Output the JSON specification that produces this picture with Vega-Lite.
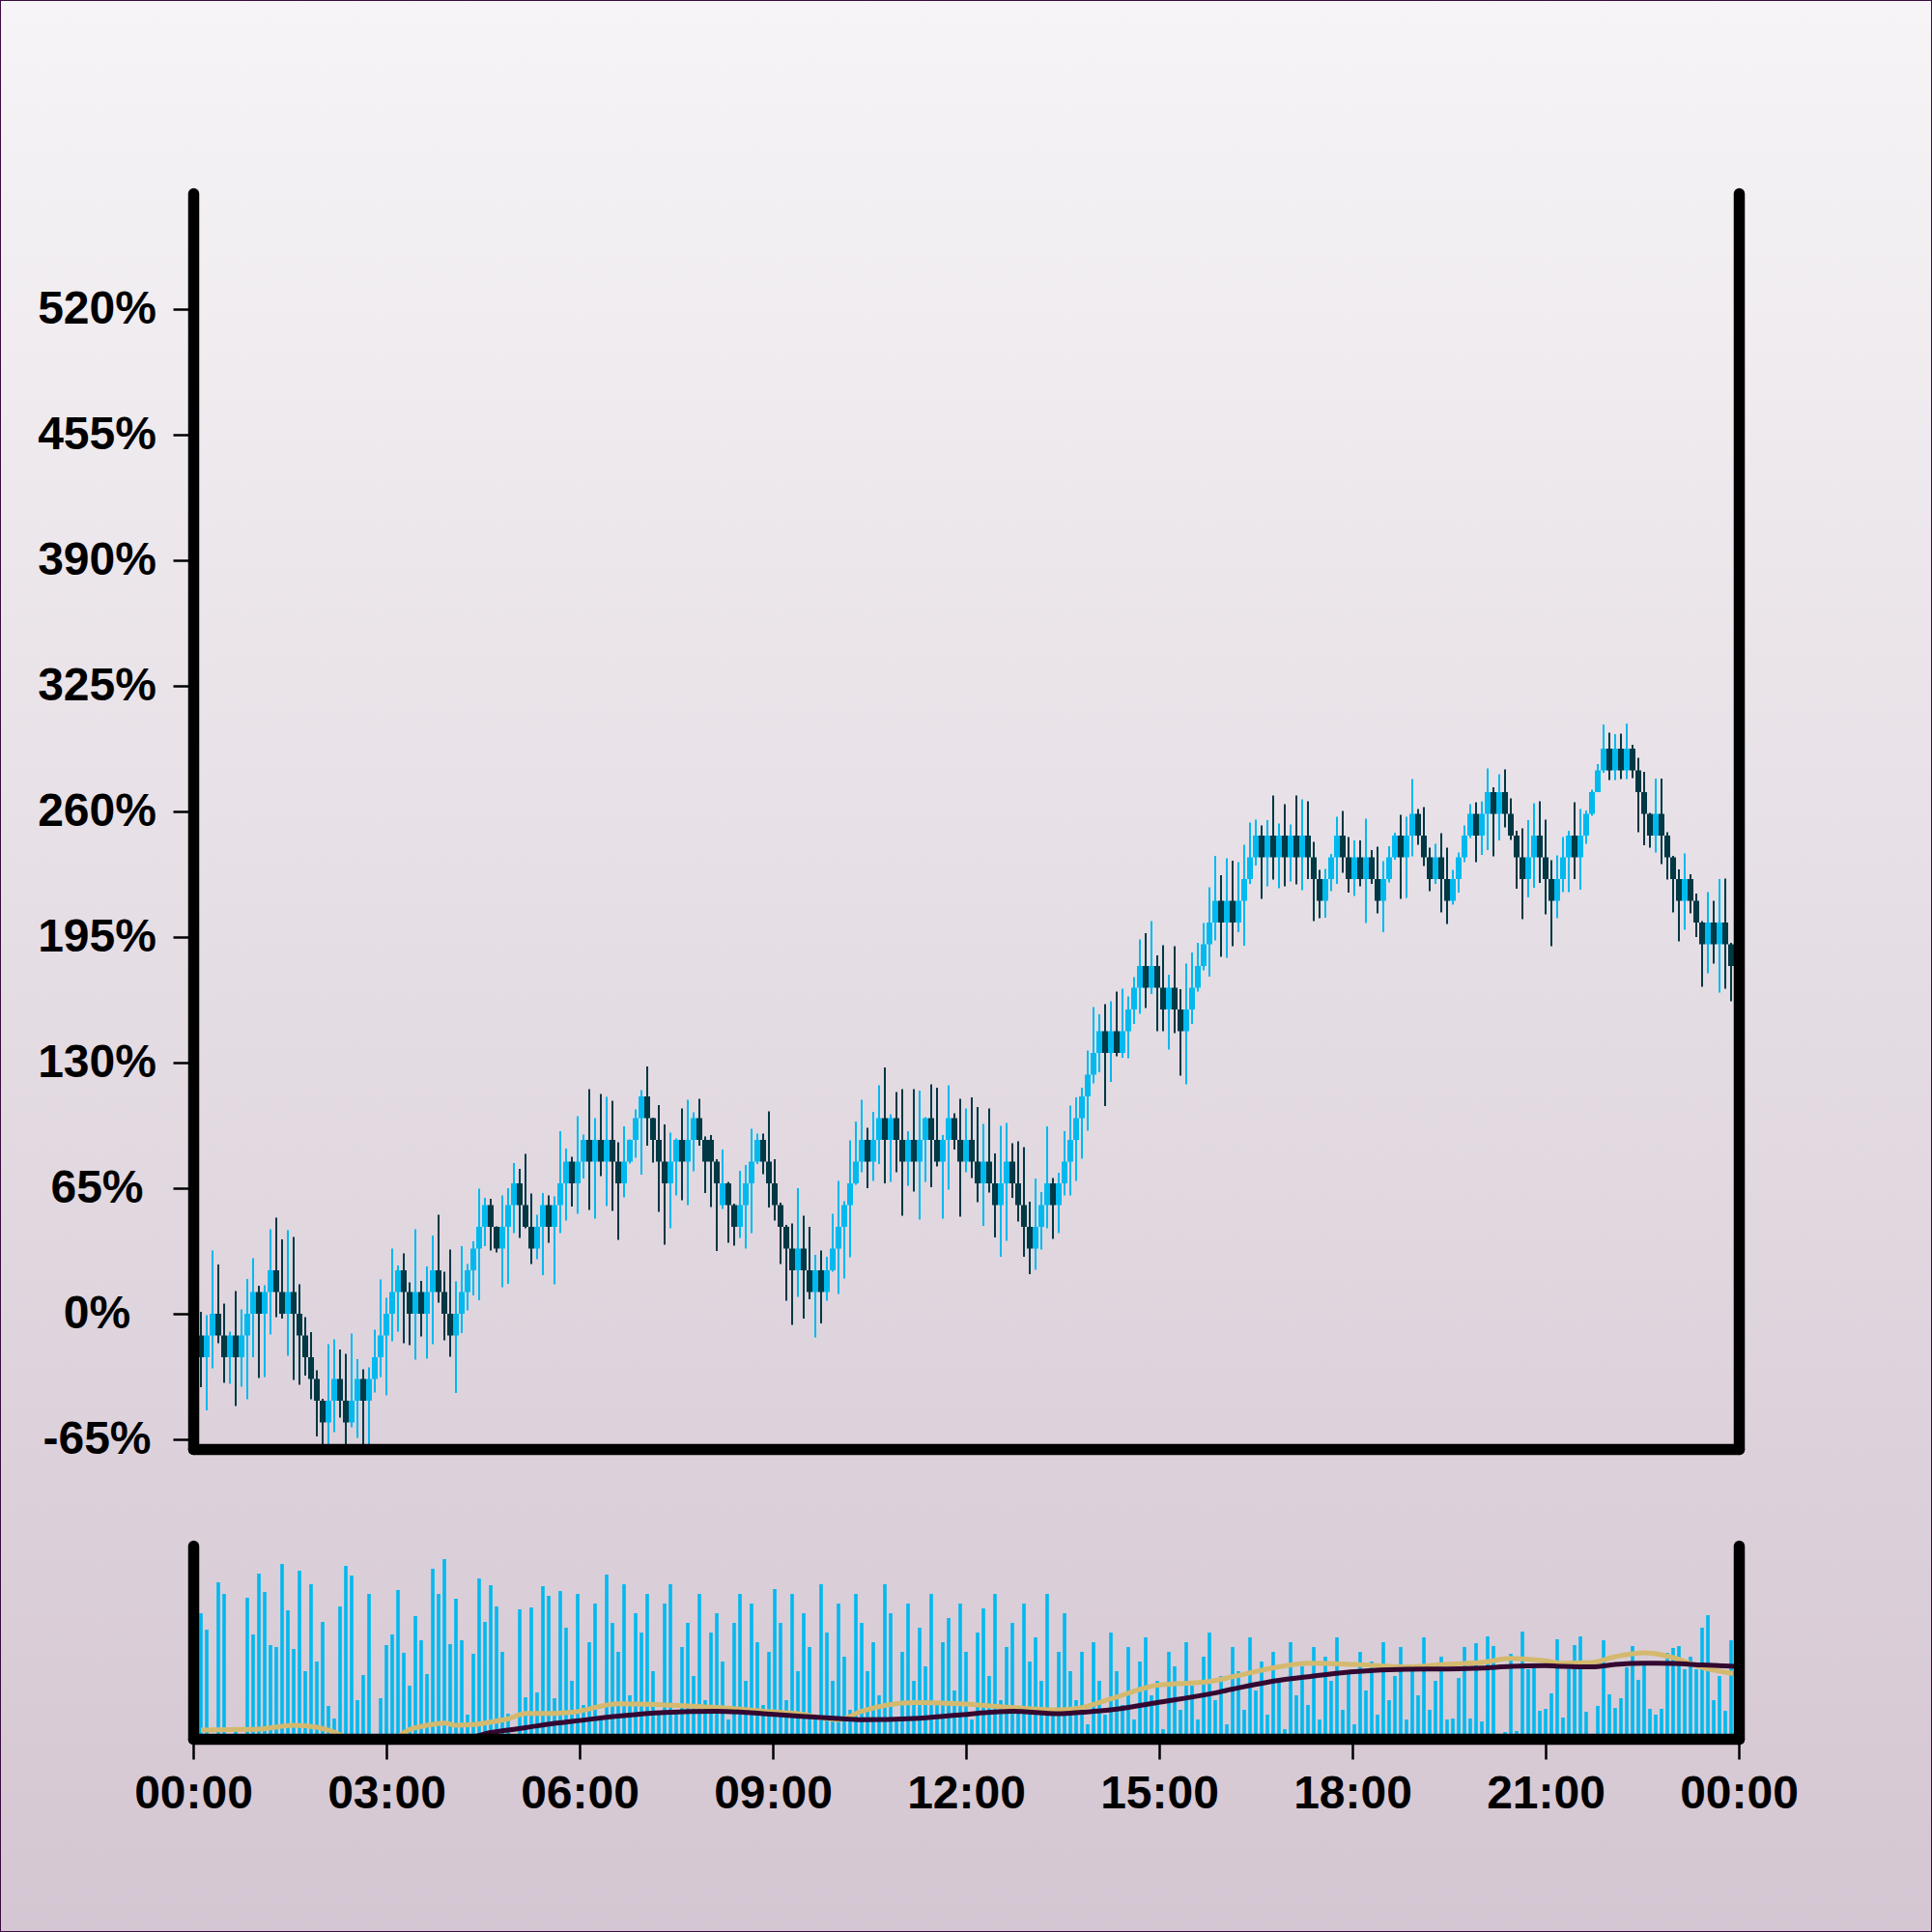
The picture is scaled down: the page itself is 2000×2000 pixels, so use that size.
{
"$schema":"https://vega.github.io/schema/vega-lite/v6.json",
"width":2000,"height":2000,"autosize":{"type":"none"},"padding":0,
"background":"#e6dfe5",
"config":{"view":{"stroke":null},
"axis":{"grid":false,"domainColor":"#000000","domainWidth":11.5,"domainCap":"round","tickColor":"#000000","tickWidth":2.5,"tickSize":21,"labelFont":"Liberation Sans","labelFontWeight":"bold","labelFontSize":48,"labelColor":"#000000","labelOverlap":false,"labelBound":false,"labelFlush":false}},
"datasets":{
"candles":[
{"i":0,"o":-11.25,"h":1,"l":-38,"c":-22.5,"v":130},
{"i":1,"o":-22.5,"h":-0.8,"l":-50,"c":-11.25,"v":113},
{"i":2,"o":-11.25,"h":32.8,"l":-28.3,"c":0,"v":2},
{"i":3,"o":0,"h":25.5,"l":-15.3,"c":-11.25,"v":162},
{"i":4,"o":-11.25,"h":5.3,"l":-35.8,"c":-22.5,"v":150},
{"i":5,"o":-22.5,"h":-9.2,"l":-36.3,"c":-11.25,"v":0},
{"i":6,"o":-11.25,"h":11.8,"l":-47.8,"c":-22.5,"v":12},
{"i":7,"o":-22.5,"h":2.2,"l":-37.8,"c":-11.25,"v":0},
{"i":8,"o":-11.25,"h":18,"l":-44.3,"c":0,"v":146},
{"i":9,"o":0,"h":28.8,"l":-22.5,"c":11.25,"v":108},
{"i":10,"o":11.25,"h":14.5,"l":-33.3,"c":0,"v":171},
{"i":11,"o":0,"h":14.8,"l":-32.8,"c":11.25,"v":152},
{"i":12,"o":11.25,"h":43.8,"l":-10.7,"c":22.5,"v":97},
{"i":13,"o":22.5,"h":49.7,"l":-1.7,"c":11.25,"v":95},
{"i":14,"o":11.25,"h":38.5,"l":-2.5,"c":0,"v":181},
{"i":15,"o":0,"h":43.2,"l":-21.8,"c":11.25,"v":133},
{"i":16,"o":11.25,"h":39.7,"l":-34.3,"c":0,"v":93},
{"i":17,"o":0,"h":15.3,"l":-36.8,"c":-11.25,"v":174},
{"i":18,"o":-11.25,"h":-1.7,"l":-32,"c":-22.5,"v":70},
{"i":19,"o":-22.5,"h":-9.5,"l":-44.3,"c":-33.75,"v":160},
{"i":20,"o":-33.75,"h":-29.2,"l":-63.5,"c":-45,"v":80},
{"i":21,"o":-45,"h":-44,"l":-70,"c":-56.25,"v":121},
{"i":22,"o":-56.25,"h":-15.8,"l":-68,"c":-45,"v":34},
{"i":23,"o":-45,"h":-13.3,"l":-61.2,"c":-33.75,"v":21},
{"i":24,"o":-33.75,"h":-18.5,"l":-53.7,"c":-45,"v":137},
{"i":25,"o":-45,"h":-20.7,"l":-68,"c":-56.25,"v":179},
{"i":26,"o":-56.25,"h":-10.3,"l":-58.7,"c":-45,"v":169},
{"i":27,"o":-45,"h":-23.5,"l":-64.2,"c":-33.75,"v":40},
{"i":28,"o":-33.75,"h":-28.8,"l":-68,"c":-45,"v":66},
{"i":29,"o":-45,"h":-27.8,"l":-68,"c":-33.75,"v":150},
{"i":30,"o":-33.75,"h":-8.2,"l":-40.8,"c":-22.5,"v":0},
{"i":31,"o":-22.5,"h":17.8,"l":-32.8,"c":-11.25,"v":42},
{"i":32,"o":-11.25,"h":8.2,"l":-42.2,"c":0,"v":97},
{"i":33,"o":0,"h":33.7,"l":-14.3,"c":11.25,"v":108},
{"i":34,"o":11.25,"h":25,"l":-9.2,"c":22.5,"v":154},
{"i":35,"o":22.5,"h":31.3,"l":-15.3,"c":11.25,"v":89},
{"i":36,"o":11.25,"h":16.2,"l":-16.2,"c":0,"v":55},
{"i":37,"o":0,"h":43.7,"l":-23.8,"c":11.25,"v":127},
{"i":38,"o":11.25,"h":17,"l":-11.8,"c":0,"v":102},
{"i":39,"o":0,"h":24.5,"l":-23.3,"c":11.25,"v":67},
{"i":40,"o":11.25,"h":40.5,"l":-15.8,"c":22.5,"v":176},
{"i":41,"o":22.5,"h":51.3,"l":5.8,"c":11.25,"v":150},
{"i":42,"o":11.25,"h":21.8,"l":-13.7,"c":0,"v":186},
{"i":43,"o":0,"h":33.3,"l":-22.2,"c":-11.25,"v":98},
{"i":44,"o":-11.25,"h":16.7,"l":-41,"c":0,"v":145},
{"i":45,"o":0,"h":35,"l":-10,"c":11.25,"v":102},
{"i":46,"o":11.25,"h":25.8,"l":1.7,"c":22.5,"v":25},
{"i":47,"o":22.5,"h":37.5,"l":9.5,"c":33.75,"v":88},
{"i":48,"o":33.75,"h":64.7,"l":7,"c":45,"v":166},
{"i":49,"o":45,"h":60,"l":35,"c":56.25,"v":121},
{"i":50,"o":56.25,"h":59.5,"l":32.8,"c":45,"v":159},
{"i":51,"o":45,"h":45.3,"l":31.7,"c":33.75,"v":137},
{"i":52,"o":33.75,"h":61.2,"l":13.7,"c":45,"v":90},
{"i":53,"o":45,"h":65,"l":15.5,"c":56.25,"v":26},
{"i":54,"o":56.25,"h":78,"l":41.7,"c":67.5,"v":0},
{"i":55,"o":67.5,"h":75,"l":39.2,"c":56.25,"v":134},
{"i":56,"o":56.25,"h":82.7,"l":44.2,"c":45,"v":43},
{"i":57,"o":45,"h":62.2,"l":25.8,"c":33.75,"v":136},
{"i":58,"o":33.75,"h":51.2,"l":28.3,"c":45,"v":48},
{"i":59,"o":45,"h":62.5,"l":20,"c":56.25,"v":158},
{"i":60,"o":56.25,"h":61.2,"l":36.7,"c":45,"v":148},
{"i":61,"o":45,"h":60.8,"l":15.3,"c":56.25,"v":42},
{"i":62,"o":56.25,"h":94.5,"l":41.7,"c":67.5,"v":153},
{"i":63,"o":67.5,"h":85.5,"l":48.3,"c":78.75,"v":115},
{"i":64,"o":78.75,"h":81.3,"l":55.5,"c":67.5,"v":60},
{"i":65,"o":67.5,"h":102.2,"l":51.7,"c":78.75,"v":150},
{"i":66,"o":78.75,"h":92.8,"l":70,"c":90,"v":35},
{"i":67,"o":90,"h":116.3,"l":53.7,"c":78.75,"v":100},
{"i":68,"o":78.75,"h":101.2,"l":49.2,"c":90,"v":140},
{"i":69,"o":90,"h":113.7,"l":71.3,"c":78.75,"v":20},
{"i":70,"o":78.75,"h":112.2,"l":55.8,"c":90,"v":170},
{"i":71,"o":90,"h":110.3,"l":53.3,"c":78.75,"v":120},
{"i":72,"o":78.75,"h":88.7,"l":38.3,"c":67.5,"v":90},
{"i":73,"o":67.5,"h":97,"l":60.3,"c":78.75,"v":160},
{"i":74,"o":78.75,"h":90.3,"l":77.8,"c":90,"v":45},
{"i":75,"o":90,"h":105.8,"l":80.8,"c":101.25,"v":130},
{"i":76,"o":101.25,"h":115.8,"l":72,"c":112.5,"v":110},
{"i":77,"o":112.5,"h":128,"l":87,"c":101.25,"v":150},
{"i":78,"o":101.25,"h":101.5,"l":78.3,"c":90,"v":70},
{"i":79,"o":90,"h":108,"l":52.8,"c":78.75,"v":25},
{"i":80,"o":78.75,"h":98,"l":35.8,"c":67.5,"v":140},
{"i":81,"o":67.5,"h":93.7,"l":44.2,"c":78.75,"v":160},
{"i":82,"o":78.75,"h":90.8,"l":61.2,"c":90,"v":30},
{"i":83,"o":90,"h":106.3,"l":58.7,"c":78.75,"v":95},
{"i":84,"o":78.75,"h":110.8,"l":56.2,"c":90,"v":120},
{"i":85,"o":90,"h":104.2,"l":73.8,"c":101.25,"v":65},
{"i":86,"o":101.25,"h":111.3,"l":87,"c":90,"v":150},
{"i":87,"o":90,"h":91.7,"l":62.5,"c":78.75,"v":40},
{"i":88,"o":90,"h":92.5,"l":55.3,"c":78.75,"v":110},
{"i":89,"o":78.75,"h":80,"l":32.5,"c":67.5,"v":130},
{"i":90,"o":56.25,"h":85,"l":54.2,"c":67.5,"v":80},
{"i":91,"o":67.5,"h":68.3,"l":36.7,"c":56.25,"v":20},
{"i":92,"o":56.25,"h":57,"l":35.3,"c":45,"v":120},
{"i":93,"o":45,"h":74,"l":39.2,"c":56.25,"v":150},
{"i":94,"o":56.25,"h":77,"l":33.8,"c":67.5,"v":60},
{"i":95,"o":67.5,"h":95.7,"l":41.7,"c":78.75,"v":140},
{"i":96,"o":78.75,"h":93.3,"l":77.5,"c":90,"v":100},
{"i":97,"o":90,"h":93.3,"l":72.2,"c":78.75,"v":35},
{"i":98,"o":78.75,"h":104.7,"l":55,"c":67.5,"v":90},
{"i":99,"o":67.5,"h":80,"l":48.3,"c":56.25,"v":155},
{"i":100,"o":56.25,"h":57.5,"l":25.8,"c":45,"v":120},
{"i":101,"o":45,"h":46,"l":6.7,"c":33.75,"v":40},
{"i":102,"o":33.75,"h":46.7,"l":-5.8,"c":22.5,"v":150},
{"i":103,"o":22.5,"h":65,"l":8.8,"c":33.75,"v":70},
{"i":104,"o":33.75,"h":50.8,"l":-2.5,"c":22.5,"v":130},
{"i":105,"o":22.5,"h":45,"l":7.5,"c":11.25,"v":95},
{"i":106,"o":11.25,"h":30.5,"l":-12.2,"c":22.5,"v":20},
{"i":107,"o":22.5,"h":32.8,"l":-5,"c":11.25,"v":160},
{"i":108,"o":11.25,"h":29.5,"l":6.7,"c":22.5,"v":110},
{"i":109,"o":22.5,"h":51.7,"l":21.7,"c":33.75,"v":60},
{"i":110,"o":33.75,"h":68.8,"l":10.3,"c":45,"v":140},
{"i":111,"o":45,"h":58.3,"l":18.3,"c":56.25,"v":85},
{"i":112,"o":56.25,"h":89.7,"l":29.2,"c":67.5,"v":30},
{"i":113,"o":67.5,"h":99.5,"l":66.7,"c":78.75,"v":150},
{"i":114,"o":78.75,"h":110.8,"l":73.3,"c":90,"v":120},
{"i":115,"o":90,"h":96.3,"l":65,"c":78.75,"v":70},
{"i":116,"o":78.75,"h":104.5,"l":68.8,"c":90,"v":100},
{"i":117,"o":90,"h":118.3,"l":77.5,"c":101.25,"v":45},
{"i":118,"o":101.25,"h":127.5,"l":67.5,"c":90,"v":160},
{"i":119,"o":90,"h":103.3,"l":68.3,"c":101.25,"v":130},
{"i":120,"o":101.25,"h":114.7,"l":73.3,"c":90,"v":20},
{"i":121,"o":90,"h":116.2,"l":50.8,"c":78.75,"v":90},
{"i":122,"o":78.75,"h":94.5,"l":66.2,"c":90,"v":140},
{"i":123,"o":90,"h":116.2,"l":63.3,"c":78.75,"v":60},
{"i":124,"o":78.75,"h":115.5,"l":48.7,"c":90,"v":115},
{"i":125,"o":90,"h":101.7,"l":68.3,"c":101.25,"v":75},
{"i":126,"o":101.25,"h":118.7,"l":65.5,"c":90,"v":150},
{"i":127,"o":90,"h":117,"l":76.3,"c":78.75,"v":35},
{"i":128,"o":78.75,"h":92.5,"l":49.2,"c":90,"v":100},
{"i":129,"o":90,"h":118.3,"l":64.2,"c":101.25,"v":125},
{"i":130,"o":101.25,"h":103.7,"l":85,"c":90,"v":50},
{"i":131,"o":90,"h":111.3,"l":50.3,"c":78.75,"v":140},
{"i":132,"o":78.75,"h":106.2,"l":73.3,"c":90,"v":90},
{"i":133,"o":90,"h":112,"l":70.3,"c":78.75,"v":20},
{"i":134,"o":78.75,"h":107,"l":57.8,"c":67.5,"v":110},
{"i":135,"o":67.5,"h":98.3,"l":45.5,"c":78.75,"v":135},
{"i":136,"o":78.75,"h":106.2,"l":62.8,"c":67.5,"v":65},
{"i":137,"o":67.5,"h":83,"l":39.5,"c":56.25,"v":150},
{"i":138,"o":56.25,"h":97.2,"l":29.5,"c":67.5,"v":40},
{"i":139,"o":67.5,"h":98.8,"l":37.8,"c":78.75,"v":95},
{"i":140,"o":78.75,"h":88.3,"l":60,"c":67.5,"v":120},
{"i":141,"o":67.5,"h":89.2,"l":47.8,"c":56.25,"v":30},
{"i":142,"o":56.25,"h":86.2,"l":29.5,"c":45,"v":140},
{"i":143,"o":45,"h":58,"l":20.5,"c":33.75,"v":80},
{"i":144,"o":33.75,"h":70,"l":22.8,"c":45,"v":105},
{"i":145,"o":45,"h":63,"l":33.3,"c":56.25,"v":60},
{"i":146,"o":56.25,"h":97,"l":44.2,"c":67.5,"v":150},
{"i":147,"o":67.5,"h":70.3,"l":38.7,"c":56.25,"v":25},
{"i":148,"o":56.25,"h":73,"l":41.7,"c":67.5,"v":90},
{"i":149,"o":67.5,"h":94.5,"l":61.2,"c":78.75,"v":130},
{"i":150,"o":78.75,"h":107.8,"l":61.3,"c":90,"v":70},
{"i":151,"o":90,"h":112,"l":68.7,"c":101.25,"v":40},
{"i":152,"o":101.25,"h":117,"l":80.3,"c":112.5,"v":90},
{"i":153,"o":112.5,"h":136.2,"l":94.7,"c":123.75,"v":15},
{"i":154,"o":123.75,"h":158.7,"l":119.2,"c":135,"v":100},
{"i":155,"o":135,"h":155,"l":125,"c":146.25,"v":60},
{"i":156,"o":146.25,"h":160.3,"l":107.5,"c":135,"v":25},
{"i":157,"o":135,"h":161.7,"l":120,"c":146.25,"v":110},
{"i":158,"o":146.25,"h":166.7,"l":133.3,"c":135,"v":70},
{"i":159,"o":135,"h":168.3,"l":132.5,"c":146.25,"v":35},
{"i":160,"o":146.25,"h":164.2,"l":132.2,"c":157.5,"v":95},
{"i":161,"o":157.5,"h":174.2,"l":150,"c":168.75,"v":20},
{"i":162,"o":168.75,"h":193.8,"l":155.3,"c":180,"v":80},
{"i":163,"o":180,"h":197,"l":158.3,"c":168.75,"v":105},
{"i":164,"o":168.75,"h":203.3,"l":165.5,"c":180,"v":45},
{"i":165,"o":180,"h":185.5,"l":146.3,"c":168.75,"v":60},
{"i":166,"o":168.75,"h":190.8,"l":146.2,"c":157.5,"v":10},
{"i":167,"o":157.5,"h":175.5,"l":136.7,"c":168.75,"v":90},
{"i":168,"o":168.75,"h":190.3,"l":145.3,"c":157.5,"v":75},
{"i":169,"o":157.5,"h":168,"l":123.3,"c":146.25,"v":30},
{"i":170,"o":146.25,"h":181.3,"l":118.8,"c":157.5,"v":100},
{"i":171,"o":157.5,"h":187,"l":150,"c":168.75,"v":55},
{"i":172,"o":168.75,"h":192,"l":166.7,"c":180,"v":20},
{"i":173,"o":180,"h":202.2,"l":177.8,"c":191.25,"v":85},
{"i":174,"o":191.25,"h":220.8,"l":174.5,"c":202.5,"v":110},
{"i":175,"o":202.5,"h":237,"l":193.3,"c":213.75,"v":40},
{"i":176,"o":213.75,"h":227,"l":184.7,"c":202.5,"v":65},
{"i":177,"o":202.5,"h":235.8,"l":184.2,"c":213.75,"v":15},
{"i":178,"o":213.75,"h":234.5,"l":190.3,"c":202.5,"v":95},
{"i":179,"o":202.5,"h":233.8,"l":197.5,"c":213.75,"v":70},
{"i":180,"o":213.75,"h":242.8,"l":190.5,"c":225,"v":30},
{"i":181,"o":225,"h":254.2,"l":222.5,"c":236.25,"v":105},
{"i":182,"o":236.25,"h":255.8,"l":232,"c":247.5,"v":50},
{"i":183,"o":247.5,"h":252.8,"l":214.7,"c":236.25,"v":80},
{"i":184,"o":236.25,"h":255.5,"l":221.2,"c":247.5,"v":25},
{"i":185,"o":247.5,"h":268.3,"l":224.7,"c":236.25,"v":90},
{"i":186,"o":236.25,"h":253.7,"l":220.3,"c":247.5,"v":60},
{"i":187,"o":247.5,"h":263.7,"l":221.3,"c":236.25,"v":10},
{"i":188,"o":236.25,"h":253.3,"l":223.7,"c":247.5,"v":100},
{"i":189,"o":247.5,"h":268.3,"l":222.2,"c":236.25,"v":45},
{"i":190,"o":236.25,"h":266.3,"l":219.2,"c":247.5,"v":75},
{"i":191,"o":247.5,"h":265.3,"l":225,"c":236.25,"v":35},
{"i":192,"o":236.25,"h":244.2,"l":203.3,"c":225,"v":95},
{"i":193,"o":225,"h":229.7,"l":204.7,"c":213.75,"v":20},
{"i":194,"o":213.75,"h":230.3,"l":205,"c":225,"v":85},
{"i":195,"o":225,"h":238,"l":218.7,"c":236.25,"v":60},
{"i":196,"o":236.25,"h":257.2,"l":222.5,"c":247.5,"v":105},
{"i":197,"o":247.5,"h":260.3,"l":228.3,"c":236.25,"v":30},
{"i":198,"o":236.25,"h":246.7,"l":218,"c":225,"v":70},
{"i":199,"o":225,"h":245,"l":216.2,"c":236.25,"v":15},
{"i":200,"o":236.25,"h":245,"l":221.3,"c":225,"v":90},
{"i":201,"o":225,"h":256.3,"l":202.2,"c":236.25,"v":50},
{"i":202,"o":236.25,"h":240,"l":222.5,"c":225,"v":80},
{"i":203,"o":225,"h":241.7,"l":207.2,"c":213.75,"v":25},
{"i":204,"o":213.75,"h":234.2,"l":197.5,"c":225,"v":100},
{"i":205,"o":225,"h":242,"l":223.3,"c":236.25,"v":40},
{"i":206,"o":236.25,"h":249,"l":235,"c":247.5,"v":65},
{"i":207,"o":247.5,"h":258.3,"l":214.7,"c":236.25,"v":95},
{"i":208,"o":236.25,"h":257.2,"l":215.3,"c":247.5,"v":20},
{"i":209,"o":247.5,"h":276.7,"l":236.7,"c":258.75,"v":75},
{"i":210,"o":258.75,"h":261.3,"l":242.8,"c":247.5,"v":45},
{"i":211,"o":247.5,"h":262.2,"l":231.7,"c":236.25,"v":105},
{"i":212,"o":236.25,"h":241.3,"l":218.7,"c":225,"v":30},
{"i":213,"o":225,"h":243.3,"l":222.5,"c":236.25,"v":60},
{"i":214,"o":236.25,"h":248.7,"l":207.8,"c":225,"v":85},
{"i":215,"o":225,"h":241.2,"l":201.7,"c":213.75,"v":20},
{"i":216,"o":213.75,"h":229.7,"l":211.7,"c":225,"v":21},
{"i":217,"o":225,"h":238.7,"l":218,"c":236.25,"v":63},
{"i":218,"o":236.25,"h":252.8,"l":233.7,"c":247.5,"v":95},
{"i":219,"o":247.5,"h":263.8,"l":246.3,"c":258.75,"v":21},
{"i":220,"o":258.75,"h":264.7,"l":233.7,"c":247.5,"v":99},
{"i":221,"o":247.5,"h":265.3,"l":237.5,"c":258.75,"v":18},
{"i":222,"o":258.75,"h":282.2,"l":240,"c":270,"v":106},
{"i":223,"o":270,"h":272.5,"l":236.7,"c":258.75,"v":96},
{"i":224,"o":258.75,"h":279.2,"l":245,"c":270,"v":0},
{"i":225,"o":270,"h":281.7,"l":251.7,"c":258.75,"v":7},
{"i":226,"o":258.75,"h":266.7,"l":245.3,"c":247.5,"v":88},
{"i":227,"o":247.5,"h":250,"l":220,"c":236.25,"v":8},
{"i":228,"o":236.25,"h":251.3,"l":204.2,"c":225,"v":111},
{"i":229,"o":225,"h":255.5,"l":215.5,"c":236.25,"v":72},
{"i":230,"o":236.25,"h":264.2,"l":220.5,"c":247.5,"v":76},
{"i":231,"o":247.5,"h":265.3,"l":223,"c":236.25,"v":29},
{"i":232,"o":236.25,"h":255.8,"l":206.7,"c":225,"v":31},
{"i":233,"o":225,"h":234.7,"l":190.3,"c":213.75,"v":47},
{"i":234,"o":213.75,"h":237.2,"l":204.7,"c":225,"v":103},
{"i":235,"o":225,"h":246.7,"l":218.3,"c":236.25,"v":22},
{"i":236,"o":236.25,"h":250,"l":218.3,"c":247.5,"v":72},
{"i":237,"o":247.5,"h":264.7,"l":225,"c":236.25,"v":97},
{"i":238,"o":236.25,"h":261.3,"l":219.5,"c":247.5,"v":106},
{"i":239,"o":247.5,"h":260.5,"l":243.3,"c":258.75,"v":28},
{"i":240,"o":258.75,"h":271.2,"l":257.8,"c":270,"v":0},
{"i":241,"o":270,"h":284.5,"l":270,"c":281.25,"v":34},
{"i":242,"o":281.25,"h":305,"l":280,"c":292.5,"v":102},
{"i":243,"o":292.5,"h":300.8,"l":276.2,"c":281.25,"v":46},
{"i":244,"o":281.25,"h":300,"l":276.3,"c":292.5,"v":32},
{"i":245,"o":292.5,"h":300.3,"l":276.7,"c":281.25,"v":42},
{"i":246,"o":281.25,"h":305.5,"l":276.7,"c":292.5,"v":74},
{"i":247,"o":292.5,"h":294.5,"l":277.2,"c":281.25,"v":96},
{"i":248,"o":281.25,"h":287.8,"l":249.2,"c":270,"v":61},
{"i":249,"o":270,"h":280.5,"l":242.5,"c":258.75,"v":79},
{"i":250,"o":258.75,"h":259.2,"l":241.3,"c":247.5,"v":31},
{"i":251,"o":247.5,"h":277,"l":238.8,"c":258.75,"v":25},
{"i":252,"o":258.75,"h":277,"l":232.8,"c":247.5,"v":31},
{"i":253,"o":247.5,"h":249.2,"l":224.7,"c":236.25,"v":89},
{"i":254,"o":236.25,"h":237,"l":207.8,"c":225,"v":94},
{"i":255,"o":225,"h":230,"l":192.8,"c":213.75,"v":96},
{"i":256,"o":213.75,"h":238.3,"l":198.7,"c":225,"v":72},
{"i":257,"o":225,"h":227.5,"l":207.2,"c":213.75,"v":85},
{"i":258,"o":213.75,"h":217.5,"l":195,"c":202.5,"v":72},
{"i":259,"o":202.5,"h":203.3,"l":169.2,"c":191.25,"v":115},
{"i":260,"o":191.25,"h":218.3,"l":176.2,"c":202.5,"v":128},
{"i":261,"o":202.5,"h":213.7,"l":181.2,"c":191.25,"v":40},
{"i":262,"o":191.25,"h":225,"l":166.2,"c":202.5,"v":65},
{"i":263,"o":202.5,"h":225.3,"l":168.3,"c":191.25,"v":29},
{"i":264,"o":191.25,"h":192,"l":161.7,"c":180,"v":102}
],
"ma":[
{"i":0,"fast":9,"slow":-15},{"i":5,"fast":9.5,"slow":-16},{"i":10,"fast":10,"slow":-18},{"i":16,"fast":14,"slow":-18},{"i":20,"fast":12,"slow":-18},{"i":23,"fast":7,"slow":-16},{"i":26,"fast":-5,"slow":-14},{"i":30,"fast":-5,"slow":-12},{"i":33,"fast":0,"slow":-10},{"i":36,"fast":9.7,"slow":-7},{"i":39,"fast":14,"slow":-4},{"i":42,"fast":16.3,"slow":-2},{"i":44,"fast":14,"slow":-1},{"i":47,"fast":14.7,"slow":2},{"i":50,"fast":17.3,"slow":6.5},{"i":53,"fast":20.7,"slow":9},{"i":56,"fast":26.3,"slow":11.5},{"i":61,"fast":26.3,"slow":16},{"i":64,"fast":27.5,"slow":18},{"i":72,"fast":36.2,"slow":23.5},{"i":80,"fast":35,"slow":27.3},{"i":89,"fast":32.4,"slow":28.6},{"i":97,"fast":28.6,"slow":26},{"i":103,"fast":26,"slow":23.5},{"i":110,"fast":19.7,"slow":21},{"i":114,"fast":28.6,"slow":19.7},{"i":123,"fast":37.5,"slow":21},{"i":131,"fast":36.2,"slow":24.8},{"i":140,"fast":32.4,"slow":28.6},{"i":148,"fast":29.9,"slow":26},{"i":152,"fast":32.4,"slow":27.5},{"i":157,"fast":41.3,"slow":29.9},{"i":165,"fast":55.4,"slow":37.5},{"i":174,"fast":59.2,"slow":46.4},{"i":178,"fast":64.3,"slow":51.5},{"i":186,"fast":74.5,"slow":60.5},{"i":191,"fast":78.3,"slow":64.3},{"i":199,"fast":77,"slow":69.4},{"i":208,"fast":74.5,"slow":72},{"i":215,"fast":77.3,"slow":72.3},{"i":221,"fast":79,"slow":73.3},{"i":226,"fast":83.3,"slow":75},{"i":232,"fast":80.7,"slow":75.7},{"i":235,"fast":78.3,"slow":75},{"i":240,"fast":79,"slow":74.5},{"i":244,"fast":85,"slow":77},{"i":249,"fast":89,"slow":78.3},{"i":251,"fast":88,"slow":78.3},{"i":254,"fast":84,"slow":78},{"i":259,"fast":74,"slow":76.5},{"i":265,"fast":67,"slow":75}
]},
"layer":[
{"data":{"values":[{}]},
 "mark":{"type":"rect","fill":{"gradient":"linear","x1":0,"y1":0,"x2":0,"y2":1,"stops":[{"offset":0,"color":"#f6f4f6"},{"offset":1,"color":"#d4c6d2"}]},"stroke":"#3a0d3e","strokeWidth":2},
 "encoding":{"x":{"value":0},"x2":{"value":"width"},"y":{"value":0},"y2":{"value":"height"}}},
{"data":{"name":"candles"},
 "resolve":{"axis":{"x":"independent","y":"independent"}},
 "layer":[
  {"mark":{"type":"rule","strokeWidth":2},
   "encoding":{
    "x":{"field":"i","type":"quantitative","scale":{"domain":[-1.3333333,265.3333333],"range":[200,1800],"nice":false,"zero":false,"padding":0},
         "axis":{"orient":"bottom","offset":-500,"ticks":false,"labels":false,"title":null,"zindex":2}},
    "y":{"field":"l","type":"quantitative","scale":{"domain":[-70,580],"range":[1500,200],"nice":false,"zero":false},
         "axis":{"orient":"left","offset":-200,"title":null,"zindex":2,"values":[-65,0,65,130,195,260,325,390,455,520],"labelExpr":"datum.value + '%'","labelAlign":"center","labelBaseline":"middle","labelPadding":79}},
    "y2":{"field":"h"},
    "color":{"condition":{"test":"datum.c > datum.o","value":"#00b9ef"},"value":"#003844"}}},
  {"mark":{"type":"bar","width":6,"orient":"vertical"},
   "encoding":{
    "x":{"field":"i","type":"quantitative","scale":{"domain":[-1.3333333,265.3333333],"range":[200,1800],"nice":false,"zero":false,"padding":0},"axis":null},
    "y":{"field":"o","type":"quantitative","axis":{"orient":"right","offset":-200,"ticks":false,"labels":false,"title":null,"zindex":2}},
    "y2":{"field":"c"},
    "color":{"condition":{"test":"datum.c > datum.o","value":"#00b9ef"},"value":"#003844"}}}
 ]},
{"resolve":{"axis":{"x":"independent","y":"independent"}},
 "layer":[
  {"data":{"name":"candles"},
   "mark":{"type":"bar","width":3.6,"orient":"vertical","color":"#00b9ef"},
   "encoding":{
    "x":{"field":"i","type":"quantitative","scale":{"domain":[-1.3333333,265.3333333],"range":[200,1800],"nice":false,"zero":false,"padding":0},"axis":{"orient":"bottom","offset":-200,"title":null,"zindex":2,"values":[-1.3333333,32,65.3333333,98.6666667,132,165.3333333,198.6666667,232,265.3333333],"labelExpr":"['00:00','03:00','06:00','09:00','12:00','15:00','18:00','21:00','00:00'][round((datum.value + 1.3333333) / 33.3333333)]","labelPadding":12,"labelBaseline":"top"}},
    "y":{"field":"v","type":"quantitative","stack":null,"scale":{"domain":[0,200],"range":[1800,1600],"nice":false,"zero":false,"clamp":true},
         "axis":{"orient":"left","offset":-200,"ticks":false,"labels":false,"title":null,"zindex":2}}}},
  {"data":{"name":"ma"},
   "mark":{"type":"line","interpolate":"monotone","color":"#d4b96e","strokeWidth":5},
   "encoding":{
    "x":{"field":"i","type":"quantitative","axis":null},
    "y":{"field":"fast","type":"quantitative","axis":{"orient":"right","offset":-200,"ticks":false,"labels":false,"title":null,"zindex":2}}}},
  {"data":{"name":"ma"},
   "mark":{"type":"line","interpolate":"monotone","color":"#340830","strokeWidth":5},
   "encoding":{
    "x":{"field":"i","type":"quantitative","axis":null},
    "y":{"field":"slow","type":"quantitative","axis":null}}}
 ]}
],
"resolve":{"scale":{"y":"independent"},"axis":{"x":"independent","y":"independent"}}
}
